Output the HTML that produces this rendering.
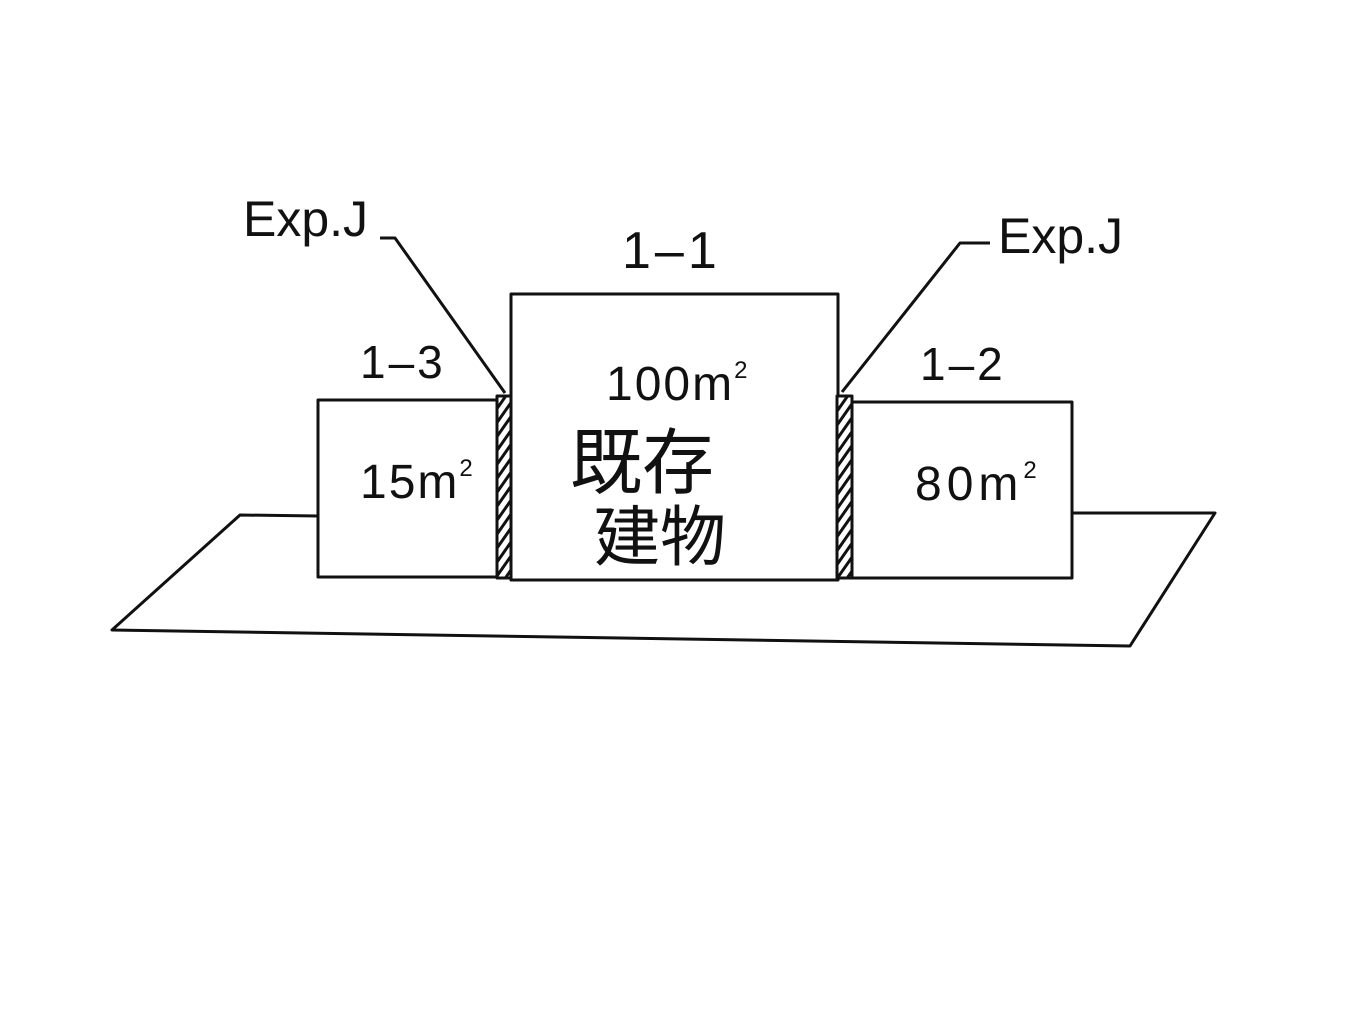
<!DOCTYPE html>
<html><head><meta charset="utf-8"><style>
html,body{margin:0;padding:0;background:#fff;}
svg text{font-family:"Liberation Sans","Noto Sans CJK JP",sans-serif;fill:#111;}
</style></head><body>
<svg width="1366" height="1024" viewBox="0 0 1366 1024" xmlns="http://www.w3.org/2000/svg">
<defs>
<pattern id="h" width="8" height="8" patternUnits="userSpaceOnUse" patternTransform="rotate(35)">
<rect width="8" height="8" fill="#fff"/><rect width="3" height="8" fill="#111"/>
</pattern>
</defs>
<g fill="none" stroke="#111" stroke-width="3" stroke-linejoin="round">
<polyline points="318,516 240,515 112,630 1130,646 1215,513 1072,513"/>
<rect x="318" y="400" width="180" height="177" fill="#fff"/>
<rect x="497" y="396" width="15" height="182" fill="url(#h)"/>
<rect x="511" y="294" width="327" height="286" fill="#fff"/>
<rect x="837" y="396" width="15" height="182" fill="url(#h)"/>
<rect x="852" y="402" width="220" height="176" fill="#fff"/>
<polyline points="380,238 395,238 505,393"/>
<polyline points="990,243 960,243 842,392"/>
</g>
<text x="243" y="236" font-size="50">Exp.J</text>
<text x="998" y="253" font-size="50">Exp.J</text>
<text x="622" y="268" font-size="52" letter-spacing="4">1–1</text>
<text x="360" y="378" font-size="46" letter-spacing="3">1–3</text>
<text x="920" y="380" font-size="46" letter-spacing="3">1–2</text>
<text x="606" y="400" font-size="48" letter-spacing="2">100m<tspan font-size="24" dy="-22">2</tspan></text>
<text x="360" y="498" font-size="48" letter-spacing="2">15m<tspan font-size="24" dy="-22">2</tspan></text>
<text x="915" y="500" font-size="48" letter-spacing="5">80m<tspan font-size="24" dy="-22">2</tspan></text>
<text x="570" y="488" font-size="72">既存</text>
<text x="594" y="560" font-size="66">建物</text>
</svg>
</body></html>
